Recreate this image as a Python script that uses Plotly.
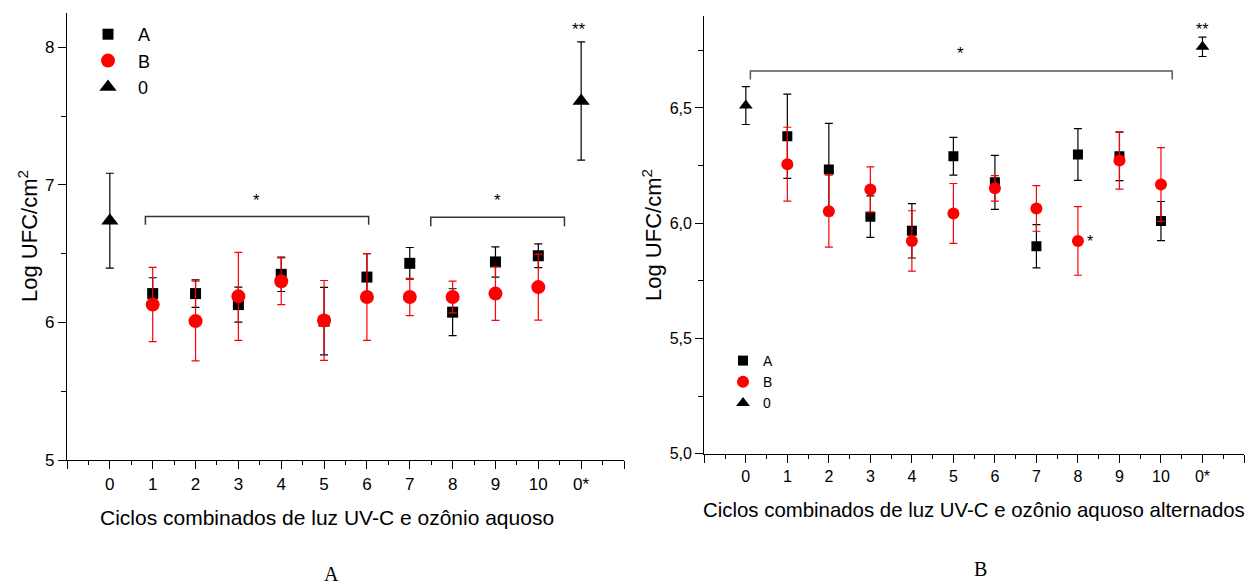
import plotly.graph_objects as go

# ---------------- data ----------------
cycle_labels = ["0", "1", "2", "3", "4", "5", "6", "7", "8", "9", "10", "0*"]
treat_cycles = ["1", "2", "3", "4", "5", "6", "7", "8", "9", "10"]
control_cycles = ["0", "0*"]

# Panel A
a_A = [6.21, 6.21, 6.13, 6.35, 6.01, 6.33, 6.43, 6.075, 6.44, 6.485]
a_A_err = [0.115, 0.10, 0.127, 0.125, 0.245, 0.17, 0.115, 0.17, 0.11, 0.087]
a_B = [6.13, 6.01, 6.19, 6.30, 6.015, 6.185, 6.185, 6.185, 6.21, 6.257]
a_B_err = [0.27, 0.29, 0.32, 0.17, 0.29, 0.315, 0.135, 0.115, 0.195, 0.24]
a_0 = [6.74, 7.61]
a_0_err = [0.345, 0.43]

# Panel B
b_A = [6.377, 6.233, 6.028, 5.967, 6.29, 6.177, 5.90, 6.298, 6.29, 6.009]
b_A_err = [0.183, 0.20, 0.09, 0.118, 0.082, 0.117, 0.094, 0.112, 0.105, 0.085]
b_B = [6.256, 6.052, 6.146, 5.923, 6.042, 6.151, 6.064, 5.923, 6.272, 6.168]
b_B_err = [0.16, 0.156, 0.098, 0.131, 0.13, 0.055, 0.099, 0.149, 0.124, 0.16]
b_0 = [6.51, 6.765]
b_0_err = [0.082, 0.042]

# significance brackets: (x_start, x_end, y_line, y_tip, star_x, star_y, label)
a_brackets = [(0.83, 6.04, 6.77, 6.71, 3.42, 6.89, "*"),
              (7.49, 10.61, 6.765, 6.70, 9.04, 6.89, "*")]
b_brackets = [(0.11, 10.27, 6.66, 6.623, 5.18, 6.736, "*")]
a_extra = [(10.96, 8.13, "**")]
b_extra = [(11.0, 6.84, "**"), (8.17, 5.92, "*")]

FONT = "Liberation Sans, Arial, sans-serif"
SERIF = "Liberation Serif, Times New Roman, serif"
W, H = 1255, 587

tx = [cycle_labels.index(c) for c in treat_cycles]
cx = [cycle_labels.index(c) for c in control_cycles]

fig = go.Figure()


def add_panel(xa, ya, A, Ae, B, Be, Z, Ze, legend, msz):
    sq, ci, tr = msz
    fig.add_trace(go.Scatter(x=tx, y=A, mode="markers", name="A",
                             marker=dict(symbol="square", color="black", size=sq),
                             error_y=dict(type="data", array=Ae, color="black", thickness=1.2, width=4),
                             xaxis=xa, yaxis=ya, legend=legend))
    fig.add_trace(go.Scatter(x=tx, y=B, mode="markers", name="B",
                             marker=dict(symbol="circle", color="#ff0000", size=ci),
                             error_y=dict(type="data", array=Be, color="#ff0000", thickness=1.2, width=4),
                             xaxis=xa, yaxis=ya, legend=legend))
    fig.add_trace(go.Scatter(x=cx, y=Z, mode="markers", name="0",
                             marker=dict(symbol="triangle-up", color="black", size=tr),
                             error_y=dict(type="data", array=Ze, color="black", thickness=1.2, width=4),
                             xaxis=xa, yaxis=ya, legend=legend))


add_panel("x", "y", a_A, a_A_err, a_B, a_B_err, a_0, a_0_err, "legend", (11, 14, 15))
add_panel("x2", "y2", b_A, b_A_err, b_B, b_B_err, b_0, b_0_err, "legend2", (10, 12, 12))

xt_vals = list(range(-1, 13))
xt_text = [""] + cycle_labels + [""]
half_x = [i + 0.5 for i in range(-1, 12)]

dA_x = [67 / W, 624 / W]
dA_y = [1 - 460 / H, 1 - 13 / H]
dB_x = [704.3 / W, 1244 / W]
dB_y = [1 - 453.7 / H, 1 - 15.7 / H]


def xaxis_main(domain, anchor, fs):
    return dict(domain=domain, anchor=anchor, range=[-1, 12], tickmode="array",
                tickvals=xt_vals, ticktext=xt_text, ticks="outside", ticklen=8, tickwidth=1,
                tickcolor="black", showline=True, linecolor="black", linewidth=1.3,
                showgrid=False, zeroline=False, tickfont=dict(family=FONT, size=fs, color="black"),
                minor=dict(tickmode="array", tickvals=half_x, ticks="outside", ticklen=4,
                           tickcolor="black", showgrid=False))


def xaxis_top(over, anchor):
    return dict(overlaying=over, anchor=anchor, side="top", range=[-1, 12], tickmode="array",
                tickvals=half_x, ticks="inside", ticklen=5, tickcolor="black", showticklabels=False,
                showline=True, linecolor="black", linewidth=1.3, showgrid=False, zeroline=False)


layout = dict(
    width=W, height=H, margin=dict(l=0, r=0, t=0, b=0, autoexpand=False),
    paper_bgcolor="white", plot_bgcolor="white",
    font=dict(family=FONT, color="black"),
    xaxis=xaxis_main(dA_x, "y", 17),
    xaxis2=xaxis_main(dB_x, "y2", 16),
    xaxis3=xaxis_top("x", "y"),
    xaxis4=xaxis_top("x2", "y2"),
    yaxis=dict(domain=dA_y, anchor="x", range=[5, 8.25], tickmode="array",
               tickvals=[5, 6, 7, 8], ticktext=["5", "6", "7", "8"], ticks="outside", ticklen=8,
               tickcolor="black", showline=True, linecolor="black", linewidth=1.3, showgrid=False,
               zeroline=False, tickfont=dict(family=FONT, size=17, color="black"),
               minor=dict(tickmode="array", tickvals=[5.5, 6.5, 7.5], ticks="outside", ticklen=5,
                          tickcolor="black", showgrid=False)),
    yaxis3=dict(overlaying="y", anchor="x", side="right", range=[5, 8.25], tickmode="array",
                tickvals=[5.5, 6.5, 7.5], ticks="inside", ticklen=5, tickcolor="black",
                showticklabels=False, showline=True, linecolor="black", linewidth=1.3,
                showgrid=False, zeroline=False),
    yaxis2=dict(domain=dB_y, anchor="x2", range=[5, 6.9], tickmode="array",
                tickvals=[5.0, 5.5, 6.0, 6.5], ticktext=["5,0", "5,5", "6,0", "6,5"], ticks="outside",
                ticklen=8, tickcolor="black", showline=True, linecolor="black", linewidth=1.3,
                showgrid=False, zeroline=False, tickfont=dict(family=FONT, size=16, color="black"),
                minor=dict(tickmode="array", tickvals=[5.25, 5.75, 6.25, 6.75], ticks="outside",
                           ticklen=5, tickcolor="black", showgrid=False)),
    yaxis4=dict(overlaying="y2", anchor="x2", side="right", range=[5, 6.9], tickmode="array",
                tickvals=[5.25, 5.75, 6.25, 6.75], ticks="inside", ticklen=5, tickcolor="black",
                showticklabels=False, showline=True, linecolor="black", linewidth=1.3,
                showgrid=False, zeroline=False),
    legend=dict(x=78 / W, y=1 - 16 / H, xanchor="left", yanchor="top", bgcolor="rgba(0,0,0,0)",
                font=dict(family=FONT, size=18, color="black"), tracegroupgap=0,
                itemsizing="trace", itemwidth=50),
    legend2=dict(x=723 / W, y=1 - 345 / H, xanchor="left", yanchor="top", bgcolor="rgba(0,0,0,0)",
                 font=dict(family=FONT, size=14, color="black"), tracegroupgap=0,
                 itemsizing="trace", itemwidth=30),
    showlegend=True,
)
fig.update_layout(**layout)

shapes = []
annotations = []


def add_brackets(brs, xr, yr, color):
    for x0, x1, yl, yt, sx, sy, lab in brs:
        shapes.append(dict(type="path", xref=xr, yref=yr,
                           path=f"M {x0},{yt} L {x0},{yl} L {x1},{yl} L {x1},{yt}",
                           line=dict(color=color, width=1.5)))
        annotations.append(dict(x=sx, y=sy, xref=xr, yref=yr, text=lab, showarrow=False,
                                xanchor="center", yanchor="middle",
                                font=dict(family=FONT, size=17, color="black")))


add_brackets(a_brackets, "x", "y", "#333333")
add_brackets(b_brackets, "x2", "y2", "#555555")
for sx, sy, lab in a_extra:
    annotations.append(dict(x=sx, y=sy, xref="x", yref="y", text=lab, showarrow=False,
                            xanchor="center", yanchor="middle",
                            font=dict(family=FONT, size=17, color="black")))
for sx, sy, lab in b_extra:
    annotations.append(dict(x=sx, y=sy, xref="x2", yref="y2", text=lab, showarrow=False,
                            xanchor="left" if lab == "*" else "center", yanchor="middle",
                            font=dict(family=FONT, size=16, color="black")))


def paper_text(x, y, text, size, family=FONT, angle=0):
    annotations.append(dict(x=x / W, y=1 - y / H, xref="paper", yref="paper", text=text,
                            showarrow=False, xanchor="center", yanchor="middle", textangle=angle,
                            font=dict(family=family, size=size, color="black")))


paper_text(327, 517, "Ciclos combinados de luz UV-C e ozônio aquoso", 21)
paper_text(974, 510, "Ciclos combinados de luz UV-C e ozônio aquoso alternados", 20.4)
paper_text(28, 236, "Log UFC/cm<sup>2</sup>", 22, angle=-90)
paper_text(652, 235, "Log UFC/cm<sup>2</sup>", 22, angle=-90)
paper_text(331, 574, "A", 20, family=SERIF)
paper_text(980, 569, "B", 20, family=SERIF)

fig.update_layout(shapes=shapes, annotations=annotations)
fig.write_html(
    "out.html",
    config={"responsive": False, "displayModeBar": False},
    post_script=(
        "document.documentElement.style.margin='0';document.documentElement.style.overflow='hidden';"
        "document.body.style.margin='0';document.body.style.padding='0';"
        "document.body.style.overflow='hidden';document.body.style.height='587px';"
    ),
)
